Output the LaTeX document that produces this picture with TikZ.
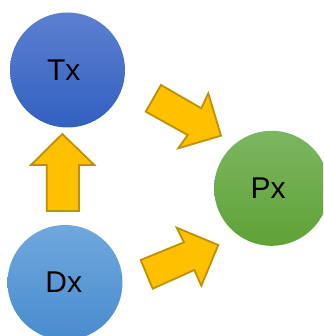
\documentclass[tikz,border=0pt]{standalone}
\usepackage{fontspec}
\setmainfont{Liberation Sans}
\begin{document}
\begin{tikzpicture}[x=1pt,y=1pt,
  ball/.style={circle,minimum size=115pt,inner sep=0pt,shading=axis,shading angle=0,
    font=\fontsize{30}{36}\selectfont,text=black},
  blockarrow/.style={fill=arrowfill,draw=arrowline,line width=1.8pt,line join=miter}]
\definecolor{arrowfill}{HTML}{FFC000}
\definecolor{arrowline}{HTML}{BF9000}
\useasboundingbox (0,0) rectangle (323,336);
\clip (0,0) rectangle (323,336);
\node[ball,top color={rgb,255:red,92;green,128;blue,208},bottom color={rgb,255:red,50;green,96;blue,192}] (tx) at (67.5,266) {\hspace*{-7.5pt}Tx};
\node[ball,top color={rgb,255:red,112;green,168;blue,221},bottom color={rgb,255:red,72;green,139;blue,206}] (dx) at (65,53.5) {\hspace*{-2.5pt}Dx};
\node[ball,top color={rgb,255:red,124;green,182;blue,97},bottom color={rgb,255:red,95;green,162;blue,53}] (px) at (271.6,147.7) {\hspace*{-7pt}Px};
% block arrows
\draw[blockarrow] (62.3,202) -- (94.3,171) -- (79,171) -- (79,125) -- (46.7,125) -- (46.7,171) -- (31,171) -- cycle;
\draw[blockarrow] (145.7,224.3) -- (161,251) -- (201.3,227.7) -- (208.3,242.7) -- (221,200.3) -- (178.3,187.7) -- (187.7,201) -- cycle;
\draw[blockarrow] (140.7,76) -- (152.7,47.3) -- (194.3,66) -- (201.3,50.3) -- (218.3,91) -- (176.7,108.3) -- (184,93.7) -- cycle;
\end{tikzpicture}
\end{document}
